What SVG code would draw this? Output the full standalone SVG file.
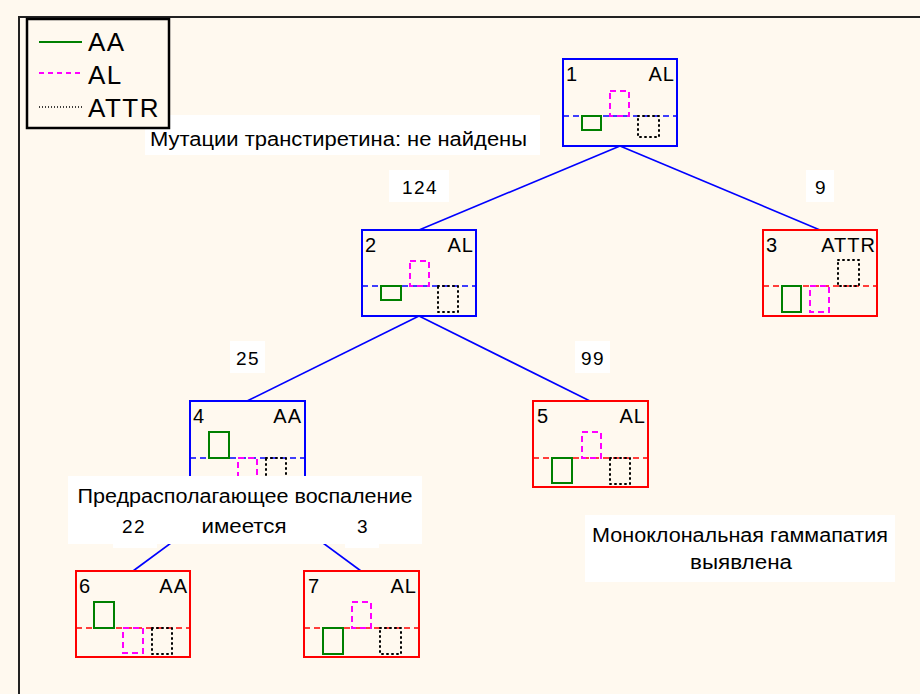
<svg xmlns="http://www.w3.org/2000/svg" width="920" height="694" viewBox="0 0 920 694">
<style>
text{font-family:"Liberation Sans",Arial,sans-serif;fill:#000}
.nt{font-size:20px;letter-spacing:1px}
.el{font-size:19px;letter-spacing:1.5px;text-anchor:middle}
.lb{font-size:20px}
.lg{font-size:26px;letter-spacing:1.5px}
.box{fill:none;stroke-width:2}
.blue{stroke:#0000FF}
.red{stroke:#FF0000}
.mid{fill:none;stroke-width:1.5;stroke-dasharray:6,4}
.g{fill:none;stroke:#008000;stroke-width:2}
.m{fill:none;stroke:#FF00FF;stroke-width:2;stroke-dasharray:6,4}
.d{fill:none;stroke:#000;stroke-width:2;stroke-dasharray:1,4;stroke-linecap:round}
.wb{fill:#FFFFFF;stroke:none}
.conn line{stroke:#0000FF;stroke-width:1.6}
</style>
<rect x="0" y="0" width="920" height="694" fill="#FFF9EF"/>
<path d="M19,694 V17 H920" fill="none" stroke="#222" stroke-width="2"/>

<g id="label-boxes">
<rect class="wb" x="389" y="170" width="60" height="32"/>
<rect class="wb" x="806" y="170" width="28" height="32"/>
<rect class="wb" x="230" y="341" width="35" height="32"/>
<rect class="wb" x="575" y="341" width="35" height="32"/>
<rect class="wb" x="113" y="512" width="44" height="36"/>
<rect class="wb" x="345" y="512" width="34" height="36"/>
</g>

<g id="connectors" class="conn">
<line x1="620" y1="146" x2="419" y2="230"/>
<line x1="620" y1="146" x2="820" y2="230"/>
<line x1="419" y1="316" x2="247" y2="401"/>
<line x1="419" y1="316" x2="590" y2="401"/>
<line x1="247" y1="487" x2="133" y2="571"/>
<line x1="247" y1="487" x2="361" y2="571"/>
</g>

<g id="node1">
<rect class="box blue" x="563" y="59" width="114" height="87"/>
<line class="mid blue" x1="563" y1="116" x2="677" y2="116"/>
<rect class="g" x="582" y="116" width="19" height="14"/>
<rect class="m" x="610" y="91" width="19" height="25"/>
<rect class="d" x="638" y="116" width="21" height="21"/>
<text class="nt" x="566" y="81">1</text>
<text class="nt" x="675" y="81" text-anchor="end">AL</text>
</g>

<g id="node2">
<rect class="box blue" x="362" y="230" width="114" height="86"/>
<line class="mid blue" x1="362" y1="286" x2="476" y2="286"/>
<rect class="g" x="381" y="286" width="20" height="14"/>
<rect class="m" x="410" y="261" width="19" height="25"/>
<rect class="d" x="438" y="286" width="20" height="26"/>
<text class="nt" x="365" y="252">2</text>
<text class="nt" x="474" y="252" text-anchor="end">AL</text>
</g>

<g id="node3">
<rect class="box red" x="763" y="230" width="114" height="86"/>
<line class="mid red" x1="763" y1="286" x2="877" y2="286"/>
<rect class="g" x="782" y="286" width="19" height="26"/>
<rect class="m" x="810" y="286" width="19" height="26"/>
<rect class="d" x="838" y="260" width="21" height="26"/>
<text class="nt" x="766" y="252">3</text>
<text class="nt" x="876" y="252" text-anchor="end">ATTR</text>
</g>

<g id="node4">
<rect class="box blue" x="190" y="401" width="115" height="86"/>
<line class="mid blue" x1="190" y1="458" x2="305" y2="458"/>
<rect class="g" x="209" y="432" width="20" height="26"/>
<rect class="m" x="238" y="458" width="19" height="26"/>
<rect class="d" x="266" y="458" width="20" height="26"/>
<text class="nt" x="193" y="423">4</text>
<text class="nt" x="302" y="423" text-anchor="end">AA</text>
</g>

<g id="node5">
<rect class="box red" x="533" y="401" width="115" height="86"/>
<line class="mid red" x1="533" y1="458" x2="648" y2="458"/>
<rect class="g" x="552" y="458" width="20" height="25"/>
<rect class="m" x="582" y="432" width="19" height="26"/>
<rect class="d" x="610" y="458" width="20" height="26"/>
<text class="nt" x="537" y="423">5</text>
<text class="nt" x="646" y="423" text-anchor="end">AL</text>
</g>

<g id="node6">
<rect class="box red" x="76" y="571" width="114" height="86"/>
<line class="mid red" x1="76" y1="628" x2="190" y2="628"/>
<rect class="g" x="94" y="602" width="20" height="26"/>
<rect class="m" x="123" y="628" width="20" height="25"/>
<rect class="d" x="152" y="628" width="20" height="26"/>
<text class="nt" x="79" y="593">6</text>
<text class="nt" x="188" y="593" text-anchor="end">AA</text>
</g>

<g id="node7">
<rect class="box red" x="304" y="571" width="115" height="86"/>
<line class="mid red" x1="304" y1="628" x2="419" y2="628"/>
<rect class="g" x="323" y="628" width="20" height="26"/>
<rect class="m" x="352" y="602" width="19" height="26"/>
<rect class="d" x="380" y="628" width="21" height="26"/>
<text class="nt" x="308" y="593">7</text>
<text class="nt" x="417" y="593" text-anchor="end">AL</text>
</g>

<g id="text-labels">
<rect class="wb" x="145" y="115" width="395" height="40"/>
<text class="lb" x="150" y="146" textLength="377" lengthAdjust="spacingAndGlyphs">Мутации транстиретина: не найдены</text>
<rect class="wb" x="68" y="476" width="354" height="68"/>
<text class="lb" x="245" y="503" text-anchor="middle" textLength="335" lengthAdjust="spacingAndGlyphs">Предрасполагающее воспаление</text>
<text class="lb" x="244" y="533" text-anchor="middle" textLength="85" lengthAdjust="spacingAndGlyphs">имеется</text>
<rect class="wb" x="585" y="515" width="310" height="67"/>
<text class="lb" x="740" y="542" text-anchor="middle" textLength="296" lengthAdjust="spacingAndGlyphs">Моноклональная гаммапатия</text>
<text class="lb" x="741" y="569" text-anchor="middle" textLength="102" lengthAdjust="spacingAndGlyphs">выявлена</text>
</g>

<g id="edge-labels">
<text class="el" x="420" y="194">124</text>
<text class="el" x="821" y="194">9</text>
<text class="el" x="248" y="365">25</text>
<text class="el" x="593" y="365">99</text>
<text class="el" x="134" y="533">22</text>
<text class="el" x="363" y="533">3</text>
</g>

<g id="legend">
<rect x="27" y="19" width="142" height="109" fill="#FFF9EF" stroke="#000" stroke-width="2.5"/>
<line x1="39" y1="42" x2="82" y2="42" stroke="#008000" stroke-width="2"/>
<line x1="39" y1="73" x2="82" y2="73" stroke="#FF00FF" stroke-width="2" stroke-dasharray="5,4"/>
<line x1="39" y1="107" x2="82" y2="107" stroke="#000" stroke-width="1.5" stroke-dasharray="1,2"/>
<text class="lg" x="88" y="51">AA</text>
<text class="lg" x="88" y="84">AL</text>
<text class="lg" x="88" y="117">ATTR</text>
</g>
</svg>
